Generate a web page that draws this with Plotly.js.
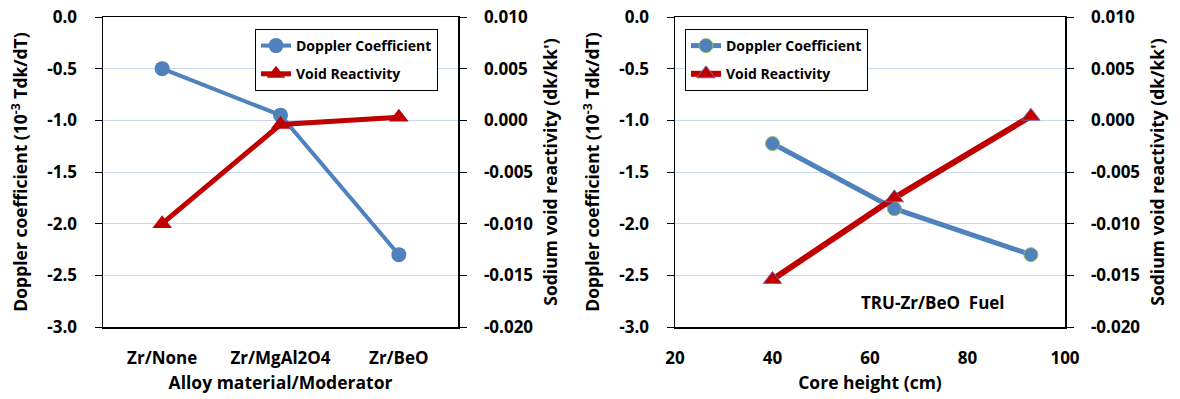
<!DOCTYPE html>
<html>
<head>
<meta charset="utf-8">
<script src="https://cdn.plot.ly/plotly-3.0.1.min.js"></script>
<style>html,body{margin:0;padding:0;background:#fff;}#chart{width:1180px;height:399px;}</style>
</head>
<body>
<div id="chart"></div>
<script>
// ---- data ----
const alloyCategories = ["Zr/None", "Zr/MgAl2O4", "Zr/BeO"];
const alloyDoppler = [-0.5, -0.95, -2.3];
const alloyVoid = [-0.010, -0.0004, 0.0003];

const coreHeight = [40, 65, 93];
const heightDoppler = [-1.225, -1.855, -2.3];
const heightVoid = [-0.0154, -0.0075, 0.0004];

const dopplerTickVals = [0, -0.5, -1.0, -1.5, -2.0, -2.5, -3.0];
const dopplerTickText = ["0.0", "-0.5", "-1.0", "-1.5", "-2.0", "-2.5", "-3.0"];
const voidTickVals = [0.010, 0.005, 0.000, -0.005, -0.010, -0.015, -0.020];
const voidTickText = ["0.010", "0.005", "0.000", "-0.005", "-0.010", "-0.015", "-0.020"];
const heightTickVals = [20, 40, 60, 80, 100];
const heightTickText = ["20", "40", "60", "80", "100"];

// ---- styles ----
const FONT = "Open Sans, Noto Sans, sans-serif";
const BLUE = "#4f81bd";
const RED = "#c00000";
const GRID = "#c6d9f1";
const H = 399, W = 1180;
const px = v => v / W;
const py = v => 1 - v / H;

const traces = [
  {x: alloyCategories, y: alloyDoppler, xaxis: "x", yaxis: "y", name: "Doppler Coefficient",
   mode: "lines+markers", line: {color: BLUE, width: 4}, marker: {symbol: "circle", size: 15, color: BLUE},
   legend: "legend", legendgroup: "d1"},
  {x: alloyCategories, y: alloyVoid, xaxis: "x", yaxis: "y2", name: "Void Reactivity",
   mode: "lines+markers", line: {color: RED, width: 5}, marker: {symbol: "triangle-up", size: 17, color: RED},
   legend: "legend", legendgroup: "v1"},
  {x: coreHeight, y: heightDoppler, xaxis: "x3", yaxis: "y3", name: "Doppler Coefficient",
   mode: "lines+markers", line: {color: BLUE, width: 5},
   marker: {symbol: "circle", size: 14, color: BLUE, line: {color: "#9bbb59", width: 1}},
   legend: "legend2", legendgroup: "d2"},
  {x: coreHeight, y: heightVoid, xaxis: "x3", yaxis: "y4", name: "Void Reactivity",
   mode: "lines+markers", line: {color: RED, width: 6},
   marker: {symbol: "triangle-up", size: 16, color: RED, line: {color: "#8064a2", width: 1}},
   legend: "legend2", legendgroup: "v2"}
];

const tickFont = {family: FONT, size: 17, color: "#000", weight: "bold"};
const titleFont = {family: FONT, size: 17.5, color: "#000", weight: "bold"};

function yLeft(anchor) {
  return {
    domain: [py(327), py(17)], anchor: anchor, range: [-3, 0],
    tickmode: "array", tickvals: dopplerTickVals, ticktext: dopplerTickText,
    ticks: "outside", ticklen: 7, tickwidth: 1, tickcolor: "#000", ticklabelstandoff: 14,
    showline: true, linecolor: "#000", linewidth: 1.5,
    showgrid: true, gridcolor: GRID, gridwidth: 1, zeroline: false,
    tickfont: tickFont,
    title: {text: "Doppler coefficient (10<sup>-3</sup> Tdk/dT)", font: titleFont, standoff: 15}
  };
}
function yRight(overlay, anchor) {
  return {
    domain: [py(327), py(17)], overlaying: overlay, side: "right", anchor: anchor, range: [-0.02, 0.01],
    tickmode: "array", tickvals: voidTickVals, ticktext: voidTickText,
    ticks: "outside", ticklen: 7, tickwidth: 1, tickcolor: "#000", ticklabelstandoff: 14,
    showline: true, linecolor: "#000", linewidth: 1.5,
    showgrid: false, zeroline: false,
    tickfont: tickFont,
    title: {text: "Sodium void reactivity (dk/kk')", font: titleFont, standoff: 12}
  };
}

const legendBase = {
  xanchor: "left", yanchor: "top",
  bgcolor: "#fff", bordercolor: "#000", borderwidth: 1,
  font: {family: FONT, size: 14, color: "#000", weight: "bold"},
  itemwidth: 30, traceorder: "grouped", tracegroupgap: 7
};

const layout = {
  width: W, height: H,
  margin: {l: 0, r: 0, t: 0, b: 0, autoexpand: false},
  paper_bgcolor: "#fff", plot_bgcolor: "#fff",
  font: {family: FONT, color: "#000"},
  showlegend: true,
  xaxis: {
    domain: [px(103), px(458)], anchor: "y", type: "category", range: [-0.5, 2.5],
    showline: true, mirror: true, linecolor: "#000", linewidth: 1.5,
    ticks: "", showgrid: false, zeroline: false, ticklabelstandoff: 15,
    tickfont: tickFont,
    title: {text: "Alloy material/Moderator", font: titleFont, standoff: 9}
  },
  yaxis: yLeft("x"),
  yaxis2: yRight("y", "x"),
  xaxis3: {
    domain: [px(675), px(1065)], anchor: "y3", range: [20, 100],
    tickmode: "array", tickvals: heightTickVals, ticktext: heightTickText,
    showline: true, mirror: true, linecolor: "#000", linewidth: 1.5,
    ticks: "", showgrid: false, zeroline: false, ticklabelstandoff: 15,
    tickfont: tickFont,
    title: {text: "Core height (cm)", font: titleFont, standoff: 9}
  },
  yaxis3: yLeft("x3"),
  yaxis4: yRight("y3", "x3"),
  legend: Object.assign({}, legendBase, {x: px(255), y: py(29)}),
  legend2: Object.assign({}, legendBase, {x: px(685), y: py(29)}),
  annotations: [
    {text: "TRU-Zr/BeO&nbsp;&nbsp;Fuel", xref: "paper", yref: "paper", x: px(933), y: py(302),
     xanchor: "center", yanchor: "middle", showarrow: false,
     font: {family: FONT, size: 17, color: "#000", weight: "bold"}}
  ]
};

Plotly.newPlot("chart", traces, layout, {displayModeBar: false, staticPlot: true});
</script>
</body>
</html>
